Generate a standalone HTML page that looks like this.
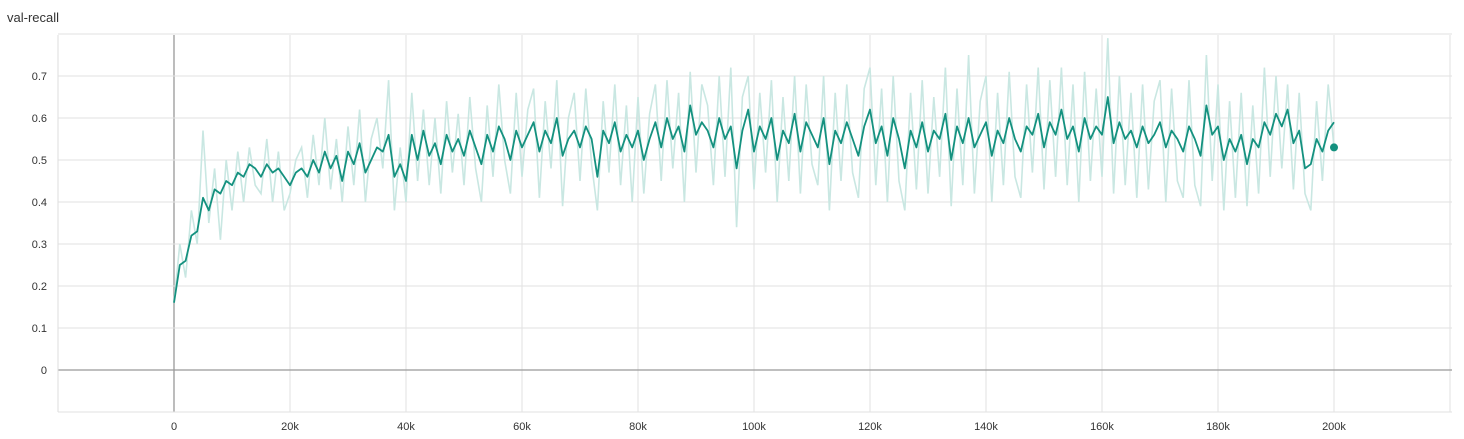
<!DOCTYPE html>
<html><head><meta charset="utf-8"><style>
body{margin:0;background:#fff;font-family:"Liberation Sans",sans-serif}
svg text{font-family:"Liberation Sans",sans-serif;fill:#333}
</style></head><body>
<svg id="c" width="1464" height="434">
<text x="7" y="22" font-size="13">val-recall</text>
</svg>
<script>
const xTicks=[0,20000,40000,60000,80000,100000,120000,140000,160000,180000,200000];
const xTickLabels=["0","20k","40k","60k","80k","100k","120k","140k","160k","180k","200k"];
const yTicks=[0,0.1,0.2,0.3,0.4,0.5,0.6,0.7];
const yTickLabels=["0","0.1","0.2","0.3","0.4","0.5","0.6","0.7"];
const stepInterval=1000;
const smoothed=[.16,.25,.26,.32,.33,.41,.38,.43,.42,.45,
.44,.47,.46,.49,.48,.46,.49,.47,.48,.46,
.44,.47,.48,.46,.50,.47,.52,.48,.51,.45,
.52,.49,.54,.47,.50,.53,.52,.56,.46,.49,
.45,.56,.50,.57,.51,.54,.49,.56,.52,.55,
.51,.57,.53,.49,.56,.52,.58,.55,.50,.57,
.53,.56,.59,.52,.57,.54,.60,.51,.55,.57,
.53,.58,.55,.46,.57,.54,.59,.52,.56,.53,
.57,.50,.55,.59,.53,.60,.55,.58,.52,.63,
.56,.59,.57,.53,.60,.55,.58,.48,.57,.62,
.52,.58,.55,.60,.50,.57,.54,.61,.52,.59,
.56,.53,.60,.49,.57,.54,.59,.55,.51,.58,
.62,.54,.58,.51,.60,.55,.48,.57,.53,.59,
.52,.57,.55,.61,.50,.58,.54,.60,.53,.56,
.59,.51,.57,.54,.60,.55,.52,.58,.56,.61,
.53,.59,.56,.62,.55,.58,.52,.60,.55,.58,
.56,.65,.54,.59,.55,.57,.53,.58,.54,.56,
.59,.53,.57,.55,.52,.58,.55,.51,.63,.56,
.58,.50,.55,.52,.56,.49,.55,.53,.59,.56,
.61,.58,.62,.54,.57,.48,.49,.55,.52,.57,.59];
const raw=[.16,.30,.22,.38,.30,.57,.35,.48,.31,.50,
.38,.52,.40,.53,.44,.42,.55,.40,.52,.38,
.42,.50,.53,.41,.56,.44,.60,.43,.55,.40,
.58,.44,.62,.40,.55,.60,.48,.69,.38,.53,
.40,.66,.45,.62,.44,.60,.42,.64,.47,.61,
.44,.65,.48,.40,.63,.46,.68,.50,.42,.66,
.46,.62,.67,.41,.64,.48,.69,.39,.60,.66,
.45,.67,.49,.38,.64,.47,.68,.44,.63,.40,
.65,.42,.61,.68,.45,.69,.48,.66,.40,.71,
.47,.68,.63,.44,.70,.46,.72,.34,.65,.70,
.43,.66,.47,.69,.40,.65,.45,.70,.42,.68,
.49,.44,.70,.38,.66,.45,.68,.47,.41,.67,
.72,.44,.67,.40,.70,.45,.38,.66,.43,.69,
.42,.65,.46,.72,.39,.67,.44,.75,.42,.64,
.70,.40,.66,.44,.71,.46,.41,.68,.47,.72,
.43,.69,.46,.72,.44,.68,.40,.71,.45,.67,
.46,.79,.42,.70,.44,.66,.41,.68,.43,.64,
.69,.40,.67,.45,.41,.69,.44,.39,.75,.45,
.68,.38,.64,.41,.66,.39,.63,.42,.72,.46,
.70,.48,.68,.43,.66,.42,.38,.64,.45,.68,.53];
const svg=document.getElementById('c');
const NS='http://www.w3.org/2000/svg';
const L=58,R=1452,T=35,B=412;
const X=v=>174+(v/20000)*116;
const Y=v=>370-v*420;
function mk(t,a){const e=document.createElementNS(NS,t);for(const k in a)e.setAttribute(k,a[k]);svg.appendChild(e);return e;}
// grid
for(let v=-20000;v<=220000;v+=20000){const l=mk('line',{x1:X(v),x2:X(v),y1:T,y2:B,stroke:v===0?'#999':'#e2e2e2','stroke-width':v===0?1.3:1});

}
for(let v=-0.1;v<=0.81;v+=0.1){const yy=Y(v);const z=Math.abs(v)<1e-6;const l=mk('line',{x1:L,x2:R,y1:yy,y2:yy,stroke:z?'#999':'#e2e2e2','stroke-width':z?1.3:1});

}
mk('line',{x1:L,x2:L,y1:T,y2:B,stroke:'#ddd'});
xTicks.forEach((v,i)=>{const t=mk('text',{x:X(v),y:430,'font-size':11,'text-anchor':'middle'});t.textContent=xTickLabels[i];

});
yTicks.forEach((v,i)=>{const t=mk('text',{x:47,y:Y(v)+4,'font-size':11,'text-anchor':'end'});t.textContent=yTickLabels[i];

});
const pts=a=>a.map((v,i)=>X(i*stepInterval)+','+Y(v)).join(' ');
const r=mk('polyline',{points:pts(raw),fill:'none',stroke:'#c9e7e2','stroke-width':1.6});


const s=mk('polyline',{points:pts(smoothed),fill:'none',stroke:'#14917f','stroke-width':1.8,'stroke-linejoin':'round'});


const last=raw.length-1;
const d=mk('circle',{cx:X(last*stepInterval),cy:Y(raw[last]),r:4,fill:'#14917f'});


</script>
</body></html>
